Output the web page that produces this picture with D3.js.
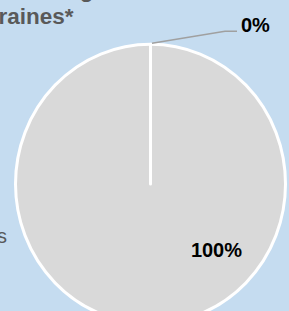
<!DOCTYPE html>
<html>
<head>
<meta charset="utf-8">
<script src="https://cdn.jsdelivr.net/npm/d3@7"></script>
<style>
  body { margin: 0; background: #c5dcf0; }
  svg { display: block; }
</style>
</head>
<body>
<div id="chart"></div>
<script>
// data
var categories = ["Aucun traitement", "Autres"];
var shares     = [0, 100];            // percent
var titleLine1 = "Prise en charge";
var titleLine2 = ["mig", "raines*"];  // split where the crop cuts it

var width  = 289;
var height = 311;

var svg = d3.select("#chart").append("svg")
    .attr("width", width)
    .attr("height", height);

svg.append("rect")
    .attr("width", width)
    .attr("height", height)
    .attr("fill", "#c5dcf0");

function titleText(x, y, anchor, s) {
    return svg.append("text")
        .attr("x", x)
        .attr("y", y)
        .attr("text-anchor", anchor)
        .attr("font-family", "Liberation Sans, Arial, sans-serif")
        .attr("font-weight", "bold")
        .attr("font-size", 22.5)
        .attr("fill", "#595959")
        .text(s);
}

// title (cut off on the left and top, like the source)
titleText(106, -3, "end", titleLine1);
titleText(-3, 24, "end", titleLine2[0]);
titleText(-1.5, 24, "start", titleLine2[1]);

// legend labels, also cut off
var legendY = d3.scalePoint().domain(categories).range([107.5, 243]);
var legendX = [-0.5, 7];
svg.selectAll(".legend")
    .data(categories)
    .enter().append("text")
    .attr("class", "legend")
    .attr("x", function (d, i) { return legendX[i]; })
    .attr("y", function (d) { return legendY(d); })
    .attr("text-anchor", "end")
    .attr("font-family", "Liberation Sans, Arial, sans-serif")
    .attr("font-size", 20)
    .attr("fill", "#595959")
    .text(function (d) { return d; });

// pie
var cx = 150.5, cy = 184;
var r  = 135;
var squash = 1.035; // source pie is a touch taller than wide

var pie = d3.pie().sort(null).value(function (d) { return d; });
var arcs = pie(shares);

var arc = d3.arc().innerRadius(0).outerRadius(r);
var colors = ["#a5a5a5", "#d9d9d9"];

var g = svg.append("g")
    .attr("transform", "translate(" + cx + "," + cy + ") scale(1," + squash + ")");

// draw the big slice first, the zero slice on top so its edge shows
g.selectAll(".slice")
    .data([arcs[1], arcs[0]])
    .enter().append("path")
    .attr("class", "slice")
    .attr("d", arc)
    .attr("fill", function (d) { return colors[d.index]; })
    .attr("stroke", "#ffffff")
    .attr("stroke-width", 3)
    .attr("stroke-linejoin", "round");

// labels
function fmt(v) { return v + "%"; }

// 0% slice: leader line from the rim
var a0 = arcs[0].startAngle;
var px = cx + 1.5 + (r + 1) * Math.sin(a0);
var py = cy - (r + 1) * Math.cos(a0) * squash;
svg.append("polyline")
    .attr("points", [[px, py], [px + 73, py - 12], [px + 85, py - 12]].join(" "))
    .attr("fill", "none")
    .attr("stroke", "#a0a0a0")
    .attr("stroke-width", 1.6);

svg.append("text")
    .attr("x", px + 89)
    .attr("y", py - 11)
    .attr("font-family", "Liberation Sans, Arial, sans-serif")
    .attr("font-weight", "bold")
    .attr("font-size", 20)
    .attr("fill", "#000")
    .text(fmt(shares[0]));

// 100% slice label, inside
var labAngle = 2.34, labR = 0.68 * r;
svg.append("text")
    .attr("x", cx + labR * Math.sin(labAngle))
    .attr("y", cy - labR * Math.cos(labAngle) * squash + 7)
    .attr("text-anchor", "middle")
    .attr("font-family", "Liberation Sans, Arial, sans-serif")
    .attr("font-weight", "bold")
    .attr("font-size", 20)
    .attr("fill", "#000")
    .text(fmt(shares[1]));
</script>
</body>
</html>
